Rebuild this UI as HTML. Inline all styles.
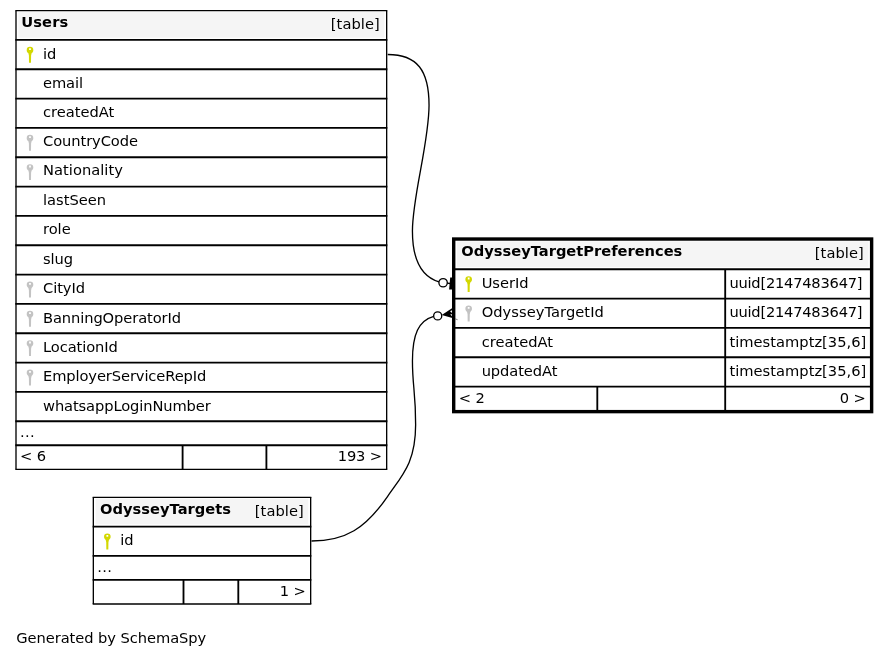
<!DOCTYPE html>
<html><head><meta charset="utf-8"><title>OdysseyTargetPreferences</title>
<style>html,body{margin:0;padding:0;background:#fff}svg{display:block;will-change:transform}text{font-family:"DejaVu Sans","Liberation Sans",sans-serif;font-size:14.667px;fill:#000}</style>
</head><body>
<svg width="889" height="659" viewBox="0 0 889 659">
<rect width="889" height="659" fill="#fff"/>
<rect x="18.30" y="12.07" width="366.07" height="25.63" fill="#f5f5f5"/>
<text x="21.30" y="27.00" font-weight="bold" letter-spacing="0.090">Users</text>
<text x="379.77" y="29.00" text-anchor="end" letter-spacing="0.058">[table]</text>
<path fill="#d3d800" fill-rule="evenodd" d="M30.00 46.87a3.3 3.3 0 0 1 3.3 3.3c0 1.3-.7 2.4-1.700 3.100l-.5 2.200l-.100 7.300h-2l-.100-7.300l-.5-2.200c-1-.7-1.700-1.800-1.700-3.100a3.3 3.3 0 0 1 3.3-3.300zM29.10 48.27v1.800h1.800v-1.800z"/>
<text x="43.00" y="59.00" letter-spacing="-0.192">id</text>
<text x="43.00" y="88.00" letter-spacing="-0.090">email</text>
<text x="43.00" y="117.00" letter-spacing="0.003">createdAt</text>
<path fill="#c3c3c3" fill-rule="evenodd" d="M30.00 134.87a3.3 3.3 0 0 1 3.3 3.3c0 1.3-.7 2.4-1.700 3.100l-.5 2.200l-.100 7.300h-2l-.100-7.300l-.5-2.200c-1-.7-1.700-1.800-1.700-3.100a3.3 3.3 0 0 1 3.3-3.300zM29.10 136.27v1.800h1.800v-1.800z"/>
<text x="43.00" y="146.00" letter-spacing="-0.074">CountryCode</text>
<path fill="#c3c3c3" fill-rule="evenodd" d="M30.00 164.20a3.3 3.3 0 0 1 3.3 3.3c0 1.3-.7 2.4-1.700 3.100l-.5 2.200l-.100 7.300h-2l-.100-7.300l-.5-2.200c-1-.7-1.700-1.800-1.700-3.100a3.3 3.3 0 0 1 3.3-3.300zM29.10 165.60v1.800h1.800v-1.800z"/>
<text x="43.00" y="175.00" letter-spacing="0.034">Nationality</text>
<text x="43.00" y="205.00" letter-spacing="-0.013">lastSeen</text>
<text x="43.00" y="234.00" letter-spacing="-0.025">role</text>
<text x="43.00" y="264.00" letter-spacing="-0.080">slug</text>
<path fill="#c3c3c3" fill-rule="evenodd" d="M30.00 281.53a3.3 3.3 0 0 1 3.3 3.3c0 1.3-.7 2.4-1.700 3.100l-.5 2.200l-.100 7.300h-2l-.100-7.300l-.5-2.200c-1-.7-1.700-1.800-1.700-3.100a3.3 3.3 0 0 1 3.3-3.300zM29.10 282.93v1.800h1.800v-1.800z"/>
<text x="43.00" y="293.00" letter-spacing="-0.064">CityId</text>
<path fill="#c3c3c3" fill-rule="evenodd" d="M30.00 310.87a3.3 3.3 0 0 1 3.3 3.3c0 1.3-.7 2.4-1.700 3.100l-.5 2.200l-.100 7.300h-2l-.100-7.300l-.5-2.200c-1-.7-1.700-1.800-1.700-3.100a3.3 3.3 0 0 1 3.3-3.300zM29.10 312.27v1.800h1.800v-1.800z"/>
<text x="43.00" y="323.00" letter-spacing="-0.094">BanningOperatorId</text>
<path fill="#c3c3c3" fill-rule="evenodd" d="M30.00 340.20a3.3 3.3 0 0 1 3.3 3.3c0 1.3-.7 2.4-1.700 3.100l-.5 2.200l-.100 7.300h-2l-.100-7.300l-.5-2.200c-1-.7-1.700-1.800-1.700-3.100a3.3 3.3 0 0 1 3.3-3.300zM29.10 341.60v1.800h1.800v-1.800z"/>
<text x="43.00" y="352.00" letter-spacing="-0.093">LocationId</text>
<path fill="#c3c3c3" fill-rule="evenodd" d="M30.00 369.53a3.3 3.3 0 0 1 3.3 3.3c0 1.3-.7 2.4-1.700 3.100l-.5 2.200l-.100 7.300h-2l-.100-7.300l-.5-2.200c-1-.7-1.700-1.800-1.700-3.100a3.3 3.3 0 0 1 3.3-3.300zM29.10 370.93v1.800h1.800v-1.800z"/>
<text x="43.00" y="381.00" letter-spacing="-0.101">EmployerServiceRepId</text>
<text x="43.00" y="411.00" letter-spacing="-0.106">whatsappLoginNumber</text>
<text x="20.00" y="437.00" letter-spacing="0.338">...</text>
<text x="20.00" y="461.00" letter-spacing="-0.094">&lt; 6</text>
<text x="381.77" y="461.00" text-anchor="end" letter-spacing="-0.189">193 &gt;</text>
<line x1="15.33" y1="10.67" x2="387.33" y2="10.67" stroke="#000" stroke-width="1.33"/>
<line x1="15.33" y1="39.90" x2="387.33" y2="39.90" stroke="#000" stroke-width="1.85"/>
<line x1="15.33" y1="69.23" x2="387.33" y2="69.23" stroke="#000" stroke-width="1.85"/>
<line x1="15.33" y1="98.57" x2="387.33" y2="98.57" stroke="#000" stroke-width="1.85"/>
<line x1="15.33" y1="127.90" x2="387.33" y2="127.90" stroke="#000" stroke-width="1.85"/>
<line x1="15.33" y1="157.23" x2="387.33" y2="157.23" stroke="#000" stroke-width="1.85"/>
<line x1="15.33" y1="186.57" x2="387.33" y2="186.57" stroke="#000" stroke-width="1.85"/>
<line x1="15.33" y1="215.90" x2="387.33" y2="215.90" stroke="#000" stroke-width="1.85"/>
<line x1="15.33" y1="245.23" x2="387.33" y2="245.23" stroke="#000" stroke-width="1.85"/>
<line x1="15.33" y1="274.57" x2="387.33" y2="274.57" stroke="#000" stroke-width="1.85"/>
<line x1="15.33" y1="303.90" x2="387.33" y2="303.90" stroke="#000" stroke-width="1.85"/>
<line x1="15.33" y1="333.23" x2="387.33" y2="333.23" stroke="#000" stroke-width="1.85"/>
<line x1="15.33" y1="362.57" x2="387.33" y2="362.57" stroke="#000" stroke-width="1.85"/>
<line x1="15.33" y1="391.90" x2="387.33" y2="391.90" stroke="#000" stroke-width="1.85"/>
<line x1="15.33" y1="421.23" x2="387.33" y2="421.23" stroke="#000" stroke-width="1.85"/>
<line x1="15.33" y1="445.23" x2="387.33" y2="445.23" stroke="#000" stroke-width="1.85"/>
<line x1="15.33" y1="469.33" x2="387.33" y2="469.33" stroke="#000" stroke-width="1.33"/>
<line x1="16.00" y1="10.67" x2="16.00" y2="469.33" stroke="#000" stroke-width="1.33"/>
<line x1="386.67" y1="10.67" x2="386.67" y2="469.33" stroke="#000" stroke-width="1.33"/>
<line x1="182.60" y1="445.33" x2="182.60" y2="469.33" stroke="#000" stroke-width="1.85"/>
<line x1="266.40" y1="445.33" x2="266.40" y2="469.33" stroke="#000" stroke-width="1.85"/>
<rect x="95.63" y="498.73" width="212.73" height="25.63" fill="#f5f5f5"/>
<text x="100.03" y="514.00" font-weight="bold" letter-spacing="0.013">OdysseyTargets</text>
<text x="303.77" y="516.00" text-anchor="end" letter-spacing="0.058">[table]</text>
<path fill="#d3d800" fill-rule="evenodd" d="M107.33 533.53a3.3 3.3 0 0 1 3.3 3.3c0 1.3-.7 2.4-1.700 3.100l-.5 2.200l-.100 7.300h-2l-.100-7.300l-.5-2.200c-1-.7-1.700-1.800-1.700-3.100a3.3 3.3 0 0 1 3.3-3.300zM106.43 534.93v1.800h1.800v-1.800z"/>
<text x="120.33" y="545.00" letter-spacing="-0.192">id</text>
<text x="97.33" y="572.00" letter-spacing="0.338">...</text>
<text x="305.77" y="596.00" text-anchor="end" letter-spacing="-0.094">1 &gt;</text>
<line x1="92.67" y1="497.33" x2="311.33" y2="497.33" stroke="#000" stroke-width="1.33"/>
<line x1="92.67" y1="526.57" x2="311.33" y2="526.57" stroke="#000" stroke-width="1.85"/>
<line x1="92.67" y1="555.90" x2="311.33" y2="555.90" stroke="#000" stroke-width="1.85"/>
<line x1="92.67" y1="579.90" x2="311.33" y2="579.90" stroke="#000" stroke-width="1.85"/>
<line x1="92.67" y1="604.00" x2="311.33" y2="604.00" stroke="#000" stroke-width="1.33"/>
<line x1="93.33" y1="497.33" x2="93.33" y2="604.00" stroke="#000" stroke-width="1.33"/>
<line x1="310.67" y1="497.33" x2="310.67" y2="604.00" stroke="#000" stroke-width="1.33"/>
<line x1="183.50" y1="580.00" x2="183.50" y2="604.00" stroke="#000" stroke-width="1.85"/>
<line x1="238.30" y1="580.00" x2="238.30" y2="604.00" stroke="#000" stroke-width="1.85"/>
<rect x="456.97" y="241.40" width="411.40" height="25.63" fill="#f5f5f5"/>
<text x="461.37" y="256.00" font-weight="bold" letter-spacing="-0.014">OdysseyTargetPreferences</text>
<text x="863.77" y="258.00" text-anchor="end" letter-spacing="0.058">[table]</text>
<path fill="#d3d800" fill-rule="evenodd" d="M468.67 276.20a3.3 3.3 0 0 1 3.3 3.3c0 1.3-.7 2.4-1.700 3.100l-.5 2.200l-.100 7.300h-2l-.100-7.300l-.5-2.200c-1-.7-1.700-1.800-1.700-3.100a3.3 3.3 0 0 1 3.3-3.300zM467.77 277.60v1.800h1.800v-1.800z"/>
<text x="481.67" y="288.00" letter-spacing="-0.011">UserId</text>
<text x="729.40" y="288.00" letter-spacing="-0.233">uuid[2147483647]</text>
<path fill="#c3c3c3" fill-rule="evenodd" d="M468.67 305.53a3.3 3.3 0 0 1 3.3 3.3c0 1.3-.7 2.4-1.700 3.100l-.5 2.200l-.100 7.300h-2l-.100-7.300l-.5-2.200c-1-.7-1.700-1.800-1.700-3.100a3.3 3.3 0 0 1 3.3-3.300zM467.77 306.93v1.800h1.800v-1.800z"/>
<text x="481.67" y="317.00" letter-spacing="0.052">OdysseyTargetId</text>
<text x="729.40" y="317.00" letter-spacing="-0.233">uuid[2147483647]</text>
<text x="481.67" y="347.00" letter-spacing="0.003">createdAt</text>
<text x="729.40" y="347.00" letter-spacing="0.020">timestamptz[35,6]</text>
<text x="481.67" y="376.00" letter-spacing="-0.086">updatedAt</text>
<text x="729.40" y="376.00" letter-spacing="0.020">timestamptz[35,6]</text>
<text x="458.67" y="403.00" letter-spacing="-0.094">&lt; 2</text>
<text x="865.77" y="403.00" text-anchor="end" letter-spacing="-0.094">0 &gt;</text>
<line x1="454.67" y1="269.23" x2="870.67" y2="269.23" stroke="#000" stroke-width="1.85"/>
<line x1="454.67" y1="298.57" x2="870.67" y2="298.57" stroke="#000" stroke-width="1.85"/>
<line x1="454.67" y1="327.90" x2="870.67" y2="327.90" stroke="#000" stroke-width="1.85"/>
<line x1="454.67" y1="357.23" x2="870.67" y2="357.23" stroke="#000" stroke-width="1.85"/>
<line x1="454.67" y1="386.57" x2="870.67" y2="386.57" stroke="#000" stroke-width="1.85"/>
<rect x="453.70" y="239.03" width="417.93" height="172.60" fill="none" stroke="#000" stroke-width="3.40"/>
<line x1="597.30" y1="386.67" x2="597.30" y2="410.67" stroke="#000" stroke-width="1.85"/>
<line x1="725.20" y1="269.33" x2="725.20" y2="410.67" stroke="#000" stroke-width="1.85"/>
<g fill="none" stroke="#000" stroke-width="1.33">
<path d="M387.70 54.50C417.05 54.50 429.04 70.19 429.04 105.31C429.04 142.71 412.43 196.20 412.43 230.93C412.43 260.91 421.64 276.59 439.00 281.90"/>
<path d="M311.50 541.00C345.57 541.00 365.41 528.47 387.31 496.82C402.45 474.95 415.63 462.53 415.63 424.66C415.63 391.02 412.45 386.82 412.45 361.05C412.45 334.39 418.60 320.64 433.70 316.40"/>
<circle cx="443.1" cy="282.75" r="4.2" fill="#fff"/>
<circle cx="437.7" cy="315.9" r="4.05" fill="#fff"/>
<path d="M447.3 283.2L450 283.5"/>
</g>
<path d="M450.2 277.5L453 277.5L453 289.4L449.1 289.4Z" fill="#000"/>
<path d="M441.7 315.0L452.4 307.9L452.4 318.1Z" fill="#000"/>
<path d="M450.0 311.3L452.0 310.3L452.0 312.9Z" fill="#fff"/>
<path d="M450.2 314.3L452.0 314.3L452.0 316.2Z" fill="#fff"/>
<path d="M455 318.8L457.6 319.7" stroke="#666" stroke-width="0.8" fill="none"/>
<text x="16.30" y="643.00" letter-spacing="-0.063">Generated by SchemaSpy</text>
</svg></body></html>
